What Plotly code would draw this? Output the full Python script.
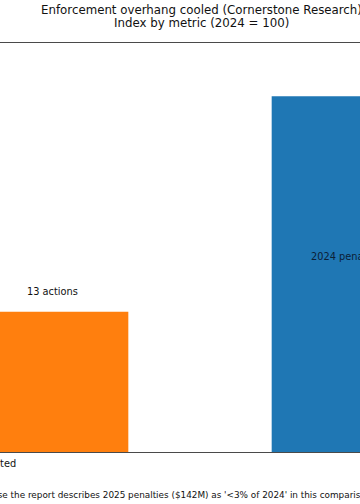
import plotly.graph_objects as go

# ---- data ----
categories = ["Actions initiated", "Penalties"]
positions = [0, 1]
index_2024 = [100, 100]
index_2025 = [39.4, 3]
labels_2025 = ["13 actions", "<3% of 2024"]
labels_2024_inside = ["", "2024 penalties"]
title_lines = ["Enforcement overhang cooled (Cornerstone Research)", "Index by metric (2024 = 100)"]
footnote = ("Note: the 2025 penalty index is drawn at 3 because the report describes "
            "2025 penalties ($142M) as '<3% of 2024' in this comparison.")

BLUE = "#1f77b4"
ORANGE = "#ff7f0e"
FONT = "DejaVu Sans"
BAR_W = 0.34

W, H = 360, 504
TOP, BOTTOM = 43, 52
X_RANGE = [24 / 448, 384 / 448]
Y_RANGE = [0, 115]
plot_h = H - TOP - BOTTOM


def x_to_paper(x):
    return (x - X_RANGE[0]) / (X_RANGE[1] - X_RANGE[0])


def px_to_paper_y(py):
    # py: pixel from top of figure
    return (H - BOTTOM - py) / plot_h


fig = go.Figure()
fig.add_bar(x=positions, y=index_2024, width=BAR_W, offset=-BAR_W,
            marker=dict(color=BLUE, line=dict(width=0)), name="2024", hoverinfo="skip")
fig.add_bar(x=positions, y=index_2025, width=BAR_W, offset=0,
            marker=dict(color=ORANGE, line=dict(width=0)), name="2025", hoverinfo="skip")

ann = []
# value labels above 2025 bars
for p, v, t in zip(positions, index_2025, labels_2025):
    ann.append(dict(x=p + BAR_W / 2, y=v, xref="x", yref="y", text=t, showarrow=False,
                    xanchor="center", yanchor="middle", yshift=20,
                    font=dict(family=FONT, size=9.8, color="#111111")))
# labels inside 2024 bars
for p, v, t in zip(positions, index_2024, labels_2024_inside):
    if t:
        ann.append(dict(x=p - BAR_W / 2, y=v * 0.55, xref="x", yref="y", text=t, showarrow=False,
                        xanchor="center", yanchor="middle",
                        font=dict(family=FONT, size=9.8, color="#0c2036")))
# category tick labels
for p, c in zip(positions, categories):
    ann.append(dict(x=x_to_paper(p), y=px_to_paper_y(463), xref="paper", yref="paper", text=c,
                    showarrow=False, xanchor="center", yanchor="middle",
                    font=dict(family=FONT, size=9.8, color="#111111")))
# title lines
for ty, t in zip([9.5, 23.5], title_lines):
    ann.append(dict(x=201 / W, y=px_to_paper_y(ty), xref="paper", yref="paper", text=t,
                    showarrow=False, xanchor="center", yanchor="middle",
                    font=dict(family=FONT, size=11.8, color="#111111")))
# footnote
ann.append(dict(x=374.5 / W, y=px_to_paper_y(495), xref="paper", yref="paper", text=footnote,
                showarrow=False, xanchor="right", yanchor="middle", borderpad=0,
                font=dict(family=FONT, size=8.85, color="#111111")))

fig.update_layout(
    width=W, height=H,
    margin=dict(l=0, r=0, t=TOP, b=BOTTOM),
    barmode="overlay",
    showlegend=False,
    paper_bgcolor="white",
    plot_bgcolor="white",
    annotations=ann,
    font=dict(family=FONT),
)
fig.update_xaxes(range=X_RANGE, showticklabels=False, ticks="", showgrid=False, zeroline=False,
                 showline=True, mirror=True, linecolor="#4a4a4a", linewidth=1)
fig.update_yaxes(range=Y_RANGE, showticklabels=False, ticks="", showgrid=False, zeroline=False,
                 showline=False)

fig.write_html("out.html", config={"displayModeBar": False},
               post_script="document.body.style.margin='0';document.body.style.overflow='hidden';")
